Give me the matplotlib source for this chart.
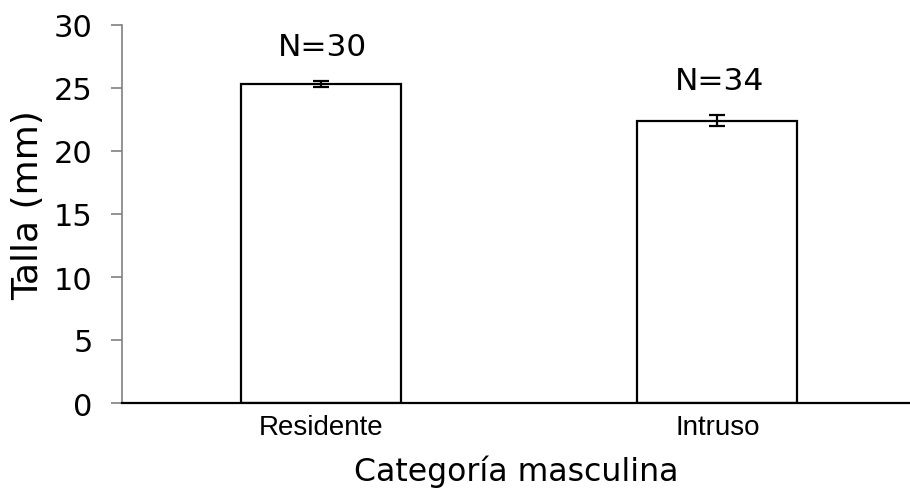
import matplotlib
matplotlib.use("Agg")
import matplotlib.pyplot as plt

categories = ["Residente", "Intruso"]
means = [25.3, 22.4]
errors = [0.25, 0.42]
n_labels = ["N=30", "N=34"]
y_ticks = [0, 5, 10, 15, 20, 25, 30]

fig = plt.figure(figsize=(9.1, 4.89), dpi=100)
ax = fig.add_axes([122 / 910, 1 - 404 / 489, 1 - 122 / 910, (404 - 26) / 489])

x = list(range(len(categories)))
ax.bar(x, means, width=0.403, color="white", edgecolor="black", linewidth=1.6, zorder=2)
ax.errorbar(x, means, yerr=errors, fmt="none", ecolor="black", elinewidth=1.6,
            capsize=6, capthick=1.6, zorder=3)

for xi, m, e, lab in zip(x, means, errors, n_labels):
    ax.text(xi + 0.005, m + e + 2.1, lab, ha="center", va="baseline", fontsize=22.5,
            family="DejaVu Sans")

ax.set_xlim(-0.501, 1.486)
ax.set_ylim(0, 30)
ax.set_yticks(y_ticks)
ax.set_yticklabels([str(t) for t in y_ticks], fontsize=22, family="DejaVu Sans")
ax.set_xticks(x)
ax.set_xticklabels(categories, fontsize=20, family="Liberation Sans")

ax.spines["top"].set_visible(False)
ax.spines["right"].set_visible(False)
ax.spines["left"].set_color("#808080")
ax.spines["left"].set_linewidth(1.2)
ax.spines["bottom"].set_color("black")
ax.spines["bottom"].set_linewidth(1.6)

ax.tick_params(axis="y", direction="out", length=8, width=1.2, color="#808080", pad=13)
ax.tick_params(axis="x", length=0, pad=8)

ax.set_ylabel("Talla (mm)", fontsize=26, family="DejaVu Sans")
ax.yaxis.set_label_coords(-0.098, 0.526)
ax.set_xlabel("Categoría masculina", fontsize=22.7, family="DejaVu Sans", labelpad=10)

fig.savefig("out.png", dpi=100)
